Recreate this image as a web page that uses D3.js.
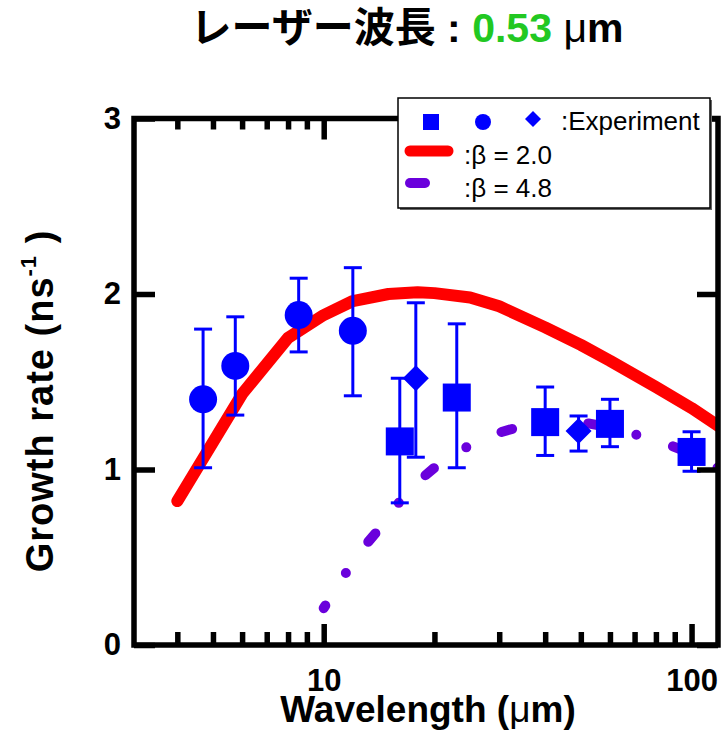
<!DOCTYPE html>
<html>
<head>
<meta charset="utf-8">
<script src="https://cdn.jsdelivr.net/npm/d3@7"></script>
<style>
  html, body { margin: 0; padding: 0; background: #fff; }
  svg { display: block; }
  text { font-family: "Liberation Sans", Arial, "Noto Sans CJK JP", sans-serif; }
</style>
</head>
<body>
<svg id="chart" width="722" height="745"></svg>
<script>
// ---- data ----
const circleWl = [4.7, 5.75, 8.55, 12.0];
const circleRate = [1.40, 1.59, 1.88, 1.79];
const circleErrTop = [1.80, 1.87, 2.09, 2.15];
const circleErrBot = [1.01, 1.31, 1.67, 1.42];

const squareWl = [16.1, 23.0, 40.0, 60.0, 100];
const squareRate = [1.16, 1.41, 1.27, 1.26, 1.10];
const squareErrTop = [1.52, 1.83, 1.47, 1.40, 1.215];
const squareErrBot = [0.81, 1.01, 1.08, 1.13, 0.99];

const diamondWl = [17.8, 49.3];
const diamondRate = [1.52, 1.22];
const diamondErrTop = [1.95, 1.305];
const diamondErrBot = [1.07, 1.105];

const beta20Wl = [4, 6, 8, 10, 12, 15, 18, 20, 25, 30, 40, 50, 60, 80, 100, 120];
const beta20Rate = [0.82, 1.43, 1.75, 1.88, 1.96, 2.00, 2.01, 2.005, 1.98, 1.93, 1.81, 1.71, 1.62, 1.47, 1.35, 1.24];

const beta48Wl = [10, 11, 12, 13, 14, 15, 16, 18, 20, 25, 30, 35, 40, 50, 60, 70, 80, 100, 120];
const beta48Rate = [0.21, 0.35, 0.47, 0.57, 0.65, 0.74, 0.81, 0.93, 1.01, 1.14, 1.21, 1.25, 1.27, 1.27, 1.24, 1.20, 1.17, 1.09, 1.00];

const xMajorTicks = [10, 100];
const xMinorTicks = [4, 5, 6, 7, 8, 9, 20, 30, 40, 50, 60, 70, 80, 90];
const yTicks = [0, 1, 2, 3];

const titleJa = "レーザー波長";
const titleValue = "0.53";
const legendLabels = [":Experiment", ":β = 2.0", ":β = 4.8"];

// ---- layout ----
const L = 134, R = 718, T = 118.5, B = 645;
const svg = d3.select("#chart");
const x = d3.scaleLog().domain([3.05, 118]).range([L, R]);
const y = d3.scaleLinear().domain([0, 3]).range([B, T]);

const BLUE = "#0000ff", RED = "#ff0000", PURPLE = "#6a00dc", GREEN = "#22c822";

svg.append("defs").append("clipPath").attr("id", "plotclip")
  .append("rect").attr("x", L).attr("y", T).attr("width", R - L).attr("height", B - T);

// ---- curves ----
const line = d3.line().x(d => x(d[0])).y(d => y(d[1]));
const curves = svg.append("g").attr("clip-path", "url(#plotclip)");
curves.append("path")
  .datum(d3.zip(beta20Wl, beta20Rate))
  .attr("d", line)
  .attr("fill", "none").attr("stroke", RED).attr("stroke-width", 12)
  .attr("stroke-linecap", "round").attr("stroke-linejoin", "round");
curves.append("path")
  .datum(d3.zip(beta48Wl, beta48Rate))
  .attr("d", line)
  .attr("fill", "none").attr("stroke", PURPLE).attr("stroke-width", 10)
  .attr("stroke-linecap", "round").attr("stroke-linejoin", "round")
  .attr("stroke-dasharray", "11,38.5,0,38.5").attr("stroke-dashoffset", 8);

// ---- error bars & markers ----
function errBars(wl, top, bot) {
  const g = svg.append("g").attr("stroke", BLUE).attr("stroke-width", 3).attr("fill", "none");
  wl.forEach((w, i) => {
    const cx = x(w);
    g.append("line").attr("x1", cx).attr("x2", cx).attr("y1", y(top[i])).attr("y2", y(bot[i]));
    g.append("line").attr("x1", cx - 9).attr("x2", cx + 9).attr("y1", y(top[i])).attr("y2", y(top[i]));
    g.append("line").attr("x1", cx - 9).attr("x2", cx + 9).attr("y1", y(bot[i])).attr("y2", y(bot[i]));
  });
}
errBars(circleWl, circleErrTop, circleErrBot);
errBars(squareWl, squareErrTop, squareErrBot);
errBars(diamondWl, diamondErrTop, diamondErrBot);

svg.append("g").selectAll("circle").data(d3.zip(circleWl, circleRate)).join("circle")
  .attr("cx", d => x(d[0])).attr("cy", d => y(d[1])).attr("r", 14).attr("fill", BLUE);
svg.append("g").selectAll("rect").data(d3.zip(squareWl, squareRate)).join("rect")
  .attr("x", d => x(d[0]) - 14).attr("y", d => y(d[1]) - 14)
  .attr("width", 28).attr("height", 28).attr("fill", BLUE);
svg.append("g").selectAll("path").data(d3.zip(diamondWl, diamondRate)).join("path")
  .attr("transform", d => `translate(${x(d[0])},${y(d[1])})`)
  .attr("d", "M0,-13L13,0L0,13L-13,0Z").attr("fill", BLUE);

// ---- frame ----
svg.append("rect").attr("x", L).attr("y", T).attr("width", R - L).attr("height", B - T)
  .attr("fill", "none").attr("stroke", "#000").attr("stroke-width", 5.5);

// ---- axes ----
function styleAxis(g) {
  g.select(".domain").remove();
  g.selectAll(".tick line").attr("stroke", "#000").attr("stroke-width", 5.5);
  g.selectAll(".tick text").attr("font-size", 31).attr("font-weight", "bold").attr("fill", "#000")
    .attr("font-family", "'Liberation Sans', Arial, sans-serif");
}
svg.append("g").attr("transform", `translate(0,${B})`)
  .call(d3.axisBottom(x).tickValues(xMajorTicks).tickFormat(d3.format("d")).tickSize(-21).tickSizeOuter(0).tickPadding(24))
  .call(styleAxis);
svg.append("g").attr("transform", `translate(0,${B})`)
  .call(d3.axisBottom(x).tickValues(xMinorTicks).tickFormat("").tickSize(-13).tickSizeOuter(0))
  .call(styleAxis);
svg.append("g").attr("transform", `translate(0,${T})`)
  .call(d3.axisTop(x).tickValues(xMajorTicks).tickFormat("").tickSize(-21).tickSizeOuter(0))
  .call(styleAxis);
svg.append("g").attr("transform", `translate(0,${T})`)
  .call(d3.axisTop(x).tickValues(xMinorTicks).tickFormat("").tickSize(-11).tickSizeOuter(0))
  .call(styleAxis);
svg.append("g").attr("transform", `translate(${L},0)`)
  .call(d3.axisLeft(y).tickValues(yTicks).tickFormat(d3.format("d")).tickSize(-21).tickSizeOuter(0).tickPadding(13))
  .call(styleAxis);
svg.append("g").attr("transform", `translate(${R},0)`)
  .call(d3.axisRight(y).tickValues(yTicks).tickFormat("").tickSize(-21).tickSizeOuter(0))
  .call(styleAxis);

// ---- axis titles ----
const xt = svg.append("text").attr("x", (L + R) / 2 + 2).attr("y", 722)
  .attr("text-anchor", "middle").attr("font-size", 37).attr("font-weight", "bold").attr("fill", "#000");
xt.append("tspan").text("Wavelength (");
xt.append("tspan").attr("font-weight", "normal").text("μ");
xt.append("tspan").text("m)");

const yt = svg.append("text").attr("transform", "translate(53,401) rotate(-90)")
  .attr("text-anchor", "middle").attr("font-size", 38).attr("font-weight", "bold")
  .attr("letter-spacing", 1).attr("fill", "#000");
yt.append("tspan").text("Growth rate (ns");
yt.append("tspan").attr("font-size", 22).attr("dy", -17).text("-1");
yt.append("tspan").attr("dy", 17).text(" )");

// ---- title ----
const tt = svg.append("text").attr("x", 407).attr("y", 42).attr("text-anchor", "middle")
  .attr("font-size", 41).attr("font-weight", "bold").attr("fill", "#000");
tt.append("tspan").attr("font-family", "'Noto Sans CJK JP', sans-serif").text(titleJa);
tt.append("tspan").text(" : ");
tt.append("tspan").attr("fill", GREEN).text(titleValue);
tt.append("tspan").text(" ");
tt.append("tspan").attr("font-weight", "normal").text("μ");
tt.append("tspan").text("m");

// ---- legend ----
const lg = svg.append("g");
lg.append("rect").attr("x", 400).attr("y", 100).attr("width", 312).attr("height", 110).attr("fill", "#666");
lg.append("rect").attr("x", 398).attr("y", 98).attr("width", 312).attr("height", 110)
  .attr("fill", "#fff").attr("stroke", "#000").attr("stroke-width", 1.5);
lg.append("rect").attr("x", 423).attr("y", 114).attr("width", 16).attr("height", 16).attr("fill", BLUE);
lg.append("circle").attr("cx", 483).attr("cy", 122).attr("r", 8).attr("fill", BLUE);
lg.append("path").attr("transform", "translate(533,119)").attr("d", "M0,-8L8,0L0,8L-8,0Z").attr("fill", BLUE);
lg.append("line").attr("x1", 410).attr("x2", 448).attr("y1", 151).attr("y2", 151)
  .attr("stroke", RED).attr("stroke-width", 11).attr("stroke-linecap", "round");
lg.append("line").attr("x1", 410).attr("x2", 425).attr("y1", 183).attr("y2", 183)
  .attr("stroke", PURPLE).attr("stroke-width", 10).attr("stroke-linecap", "round");
const ly = [130, 164, 197], lx = [561, 464, 464];
legendLabels.forEach((t, i) => {
  lg.append("text").attr("x", lx[i]).attr("y", ly[i]).attr("font-size", 26).attr("fill", "#000").text(t);
});
</script>
</body>
</html>
